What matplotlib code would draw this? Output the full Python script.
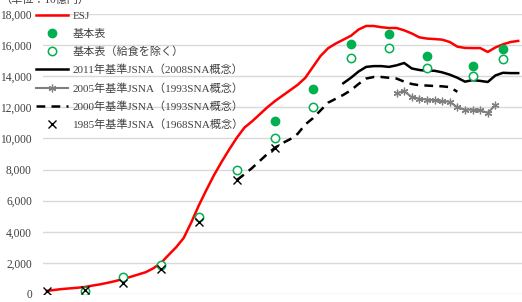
import numpy as np
import matplotlib.pyplot as plt

plt.rcParams['font.family'] = ['Liberation Serif', 'Noto Sans CJK JP']

# ESJ (yearly 1955-2017)
esj_years = np.arange(1955, 2018)
esj = [200, 260, 320, 360, 400, 450, 540, 620, 720, 830,
       960, 1100, 1250, 1400, 1650, 1990, 2500, 3000, 3600, 4600,
       5700, 6700, 7650, 8500, 9300, 10050, 10700, 11100, 11550, 12000,
       12400, 12750, 13100, 13450, 13900, 14600, 15300, 15800, 16100, 16350,
       16600, 17000, 17230, 17230, 17150, 17100, 17100, 16950, 16750, 16500,
       16420, 16390, 16350, 16200, 15900, 15820, 15810, 15810, 15560, 15850,
       16050, 16200, 16270]

# 基本表
io_years = [1985, 1990, 1995, 2000, 2005, 2011, 2015]
io_vals = [11100, 13150, 16050, 16700, 15300, 14650, 15750]

# 基本表（給食を除く）
io_ex_years = [1960, 1965, 1970, 1975, 1980, 1985, 1990, 1995, 2000, 2005, 2011, 2015]
io_ex_vals = [220, 1100, 1860, 4950, 7950, 10050, 12020, 15150, 15800, 14530, 14020, 15100]

# 2011年基準JSNA（2008SNA概念）
j2011_years = np.arange(1994, 2018)
j2011 = [13550, 13900, 14300, 14600, 14650, 14650, 14600, 14700, 14850, 14500,
         14400, 14350, 14350, 14250, 14100, 13900, 13650, 13750, 13700, 13630,
         14050, 14220, 14200, 14200]

# 2005年基準JSNA（1993SNA概念）
j2005_years = np.arange(2001, 2015)
j2005 = [12900, 13050, 12650, 12550, 12500, 12450, 12400, 12350, 12000, 11850,
         11850, 11800, 11650, 12150]

# 2000年基準JSNA（1993SNA概念）
j2000_years = np.arange(1980, 2010)
j2000 = [7330, 7700, 8100, 8550, 9000, 9400, 9700, 9950, 10300, 10900,
         11300, 11800, 12300, 12550, 12800, 13100, 13500, 13850, 13950, 13950,
         13900, 13850, 13650, 13500, 13420, 13400, 13370, 13350, 13300, 13000]

# 1985年基準JSNA（1968SNA概念）
j1985_years = [1955, 1960, 1965, 1970, 1975, 1980, 1985]
j1985 = [200, 280, 720, 1620, 4650, 7330, 9400]

green = '#00B050'

fig = plt.figure(figsize=(5.22, 3.02), dpi=100)
ax = fig.add_axes([43 / 522, 8 / 302, 479 / 522, 280 / 302])

ax.plot(esj_years, esj, color='#FF0000', lw=1.8, label='ESJ', zorder=5)
ax.plot(io_years, io_vals, 'o', color=green, ms=6, label='基本表', zorder=6)
ax.plot(io_ex_years, io_ex_vals, 'o', mfc='white', mec=green, mew=1.1, ms=6,
        label='基本表（給食を除く）', zorder=6)
ax.plot(j2011_years, j2011, color='black', lw=1.8,
        label='2011年基準JSNA（2008SNA概念）', zorder=4)
ax.plot(j2005_years, j2005, color='#7F7F7F', lw=1.5, marker=(6, 2, 0), ms=5.5,
        mew=0.9, label='2005年基準JSNA（1993SNA概念）', zorder=4)
ax.plot(j2000_years, j2000, color='black', lw=1.8, ls=(0, (3.5, 2.5)),
        label='2000年基準JSNA（1993SNA概念）', zorder=4)
ax.plot(j1985_years, j1985, 'x', color='black', ms=6, mew=1.0,
        label='1985年基準JSNA（1968SNA概念）', zorder=7)

ax.set_xlim(1954.5, 2017.5)
ax.set_ylim(0, 18000)
ax.set_yticks(np.arange(0, 18001, 2000))
ax.set_yticklabels([f'{v:,}' for v in range(0, 18001, 2000)])
ax.set_xticks([])
ax.tick_params(axis='y', length=0, pad=8, labelsize=8.3, labelcolor='#404040')
ax.grid(axis='y', color='#D9D9D9', lw=1)
ax.set_axisbelow(True)
for s in ax.spines.values():
    s.set_visible(False)

leg = ax.legend(loc='upper left', bbox_to_anchor=(36 / 522, 1 - 11 / 302),
                bbox_transform=fig.transFigure, frameon=False, fontsize=8,
                handlelength=2.9, handletextpad=0.4, labelspacing=0.7,
                borderpad=0, borderaxespad=0)
for t in leg.get_texts():
    t.set_color('#404040')

fig.text(0.0, 1.0, '（単位：10億円）', fontsize=8, color='#404040',
         ha='left', va='center')

fig.savefig('out.png', dpi=100)
